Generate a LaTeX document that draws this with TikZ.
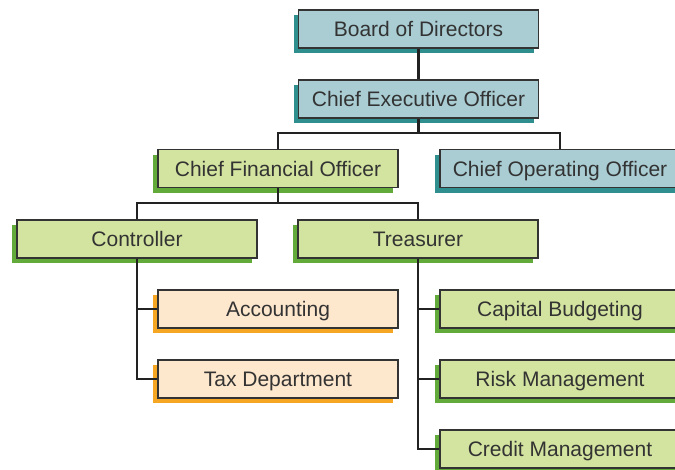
\documentclass[tikz,border=0pt]{standalone}
\usepackage{fontspec}
\setmainfont{Liberation Sans}
\usetikzlibrary{shadows}
\definecolor{bluefill}{HTML}{A9CDD3}
\definecolor{blueshadow}{HTML}{2F8E8E}
\definecolor{greenfill}{HTML}{D3E4A0}
\definecolor{greenshadow}{HTML}{62AA3A}
\definecolor{orangefill}{HTML}{FDE7CD}
\definecolor{orangeshadow}{HTML}{F5A623}
\definecolor{edgegray}{HTML}{333333}
\definecolor{linegray}{HTML}{222222}
\tikzset{
  orgbox/.style={draw=edgegray, line width=1.2pt, minimum width=240pt, minimum height=38pt,
    inner sep=0pt, text height=15pt, text depth=0pt, text=edgegray, font=\fontsize{21}{25}\selectfont},
  bluebox/.style={orgbox, fill=bluefill, drop shadow={shadow xshift=-5pt, shadow yshift=-5pt, fill=blueshadow, opacity=1}},
  greenbox/.style={orgbox, fill=greenfill, drop shadow={shadow xshift=-5pt, shadow yshift=-5pt, fill=greenshadow, opacity=1}},
  orangebox/.style={orgbox, fill=orangefill, drop shadow={shadow xshift=-5pt, shadow yshift=-5pt, fill=orangeshadow, opacity=1}},
  conn/.style={draw=linegray, line width=2.8pt}
}
\begin{document}
\begin{tikzpicture}[x=1pt, y=-1pt]
\useasboundingbox (0,0) rectangle (675,469);
\node[bluebox] (board) at (418.5,29) {Board of Directors};
\node[bluebox] (ceo) at (418.5,99) {Chief Executive Officer};
\node[greenbox] (cfo) at (278,168.5) {Chief Financial Officer};
\node[bluebox] (coo) at (560,168.5) {Chief Operating Officer};
\node[greenbox] (ctrl) at (137,239) {Controller};
\node[greenbox] (treas) at (418,239) {Treasurer};
\node[orangebox] (acc) at (278,309) {Accounting};
\node[orangebox] (tax) at (278,379) {Tax Department};
\node[greenbox] (cap) at (560,309) {Capital Budgeting};
\node[greenbox] (risk) at (560,379) {Risk Management};
\node[greenbox] (cred) at (560,449) {Credit Management};
\coordinate (j1) at (418.5,133);
\coordinate (j2) at (278,203);
\draw[conn] (board.south) -- (ceo.north);
\draw[conn] (ceo.south) -- (j1);
\draw[conn] (cfo.north) |- (j1) -| (coo.north);
\draw[conn] (cfo.south) -- (j2);
\draw[conn] (ctrl.north) |- (j2) -| (treas.north);
\draw[conn] (ctrl.south) |- (tax.west);
\draw[conn] (acc.west) -- (acc.west -| ctrl.south);
\draw[conn] (treas.south) |- (cred.west);
\draw[conn] (cap.west) -- (cap.west -| treas.south);
\draw[conn] (risk.west) -- (risk.west -| treas.south);
\end{tikzpicture}
\end{document}
